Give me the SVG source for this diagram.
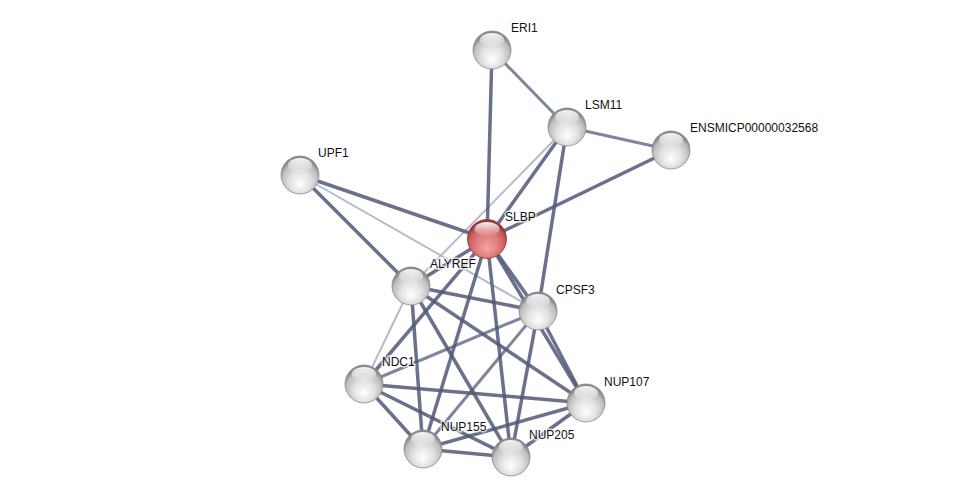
<svg xmlns="http://www.w3.org/2000/svg" width="976" height="502" viewBox="0 0 976 502">
<defs>
<radialGradient id="gGray" cx="0.5" cy="0.62" r="0.55" fx="0.5" fy="0.75">
<stop offset="0" stop-color="#ffffff"/>
<stop offset="0.5" stop-color="#e2e2e2"/>
<stop offset="0.85" stop-color="#bdbdbd"/>
<stop offset="1" stop-color="#888888"/>
</radialGradient>
<radialGradient id="gRed" cx="0.5" cy="0.62" r="0.55" fx="0.5" fy="0.75">
<stop offset="0" stop-color="#f3a5a5"/>
<stop offset="0.55" stop-color="#e07a7a"/>
<stop offset="0.85" stop-color="#c85a5a"/>
<stop offset="1" stop-color="#8e3a3a"/>
</radialGradient>
<linearGradient id="gHi" x1="0" y1="0" x2="0" y2="1">
<stop offset="0" stop-color="#ffffff" stop-opacity="0.95"/>
<stop offset="1" stop-color="#ffffff" stop-opacity="0.05"/>
</linearGradient>
<g id="ball">
<circle r="19" fill="url(#gGray)" stroke="#8a8a8a" stroke-width="0.8"/>
<ellipse cx="0" cy="-10" rx="12" ry="7" fill="url(#gHi)"/>
</g>
<g id="ballRed">
<circle r="19.5" fill="url(#gRed)" stroke="#8e3a3a" stroke-width="0.8"/>
<ellipse cx="0" cy="-10" rx="12.5" ry="7" fill="url(#gHi)"/>
</g>
</defs>
<style>
.e{stroke:#4f5878;stroke-opacity:0.85;stroke-width:3.5;fill:none}
.m{stroke:#5f6785;stroke-opacity:0.8;stroke-width:3;fill:none}
.l{stroke:#b6bbcc;stroke-width:2;fill:none}
.t{font-family:"Liberation Sans",Arial,sans-serif;font-size:12px;fill:#111;stroke:#ffffff;stroke-width:3;stroke-opacity:0.7;paint-order:stroke}
</style>
<rect width="976" height="502" fill="#ffffff"/>
<g id="edges">
<line class="l" x1="567" y1="127" x2="411" y2="286"/>
<line class="l" x1="300" y1="175" x2="538" y2="311"/>
<line class="l" x1="411" y1="286" x2="364" y2="384"/>
<line class="m" x1="538" y1="311" x2="423" y2="449"/>
<line class="m" x1="538" y1="311" x2="364" y2="384"/>
<line class="e" x1="492" y1="50" x2="487" y2="239"/>
<line class="m" x1="492" y1="50" x2="567" y2="127"/>
<line class="m" x1="567" y1="127" x2="671" y2="150"/>
<line class="e" x1="567" y1="127" x2="487" y2="239"/>
<line class="e" x1="567" y1="127" x2="538" y2="311"/>
<line class="e" x1="671" y1="150" x2="487" y2="239"/>
<line class="e" x1="300" y1="175" x2="487" y2="239"/>
<line class="e" x1="300" y1="175" x2="411" y2="286"/>
<line class="e" x1="487" y1="239" x2="411" y2="286"/>
<line class="e" x1="487" y1="239" x2="538" y2="311"/>
<line class="e" x1="487" y1="239" x2="364" y2="384"/>
<line class="e" x1="487" y1="239" x2="423" y2="449"/>
<line class="e" x1="487" y1="239" x2="511" y2="457"/>
<line class="e" x1="487" y1="239" x2="586" y2="403"/>
<line class="e" x1="411" y1="286" x2="538" y2="311"/>
<line class="e" x1="411" y1="286" x2="423" y2="449"/>
<line class="e" x1="411" y1="286" x2="511" y2="457"/>
<line class="e" x1="411" y1="286" x2="586" y2="403"/>
<line class="e" x1="538" y1="311" x2="511" y2="457"/>
<line class="e" x1="538" y1="311" x2="586" y2="403"/>
<line class="e" x1="364" y1="384" x2="586" y2="403"/>
<line class="e" x1="364" y1="384" x2="423" y2="449"/>
<line class="e" x1="364" y1="384" x2="511" y2="457"/>
<line class="e" x1="423" y1="449" x2="511" y2="457"/>
<line class="e" x1="423" y1="449" x2="586" y2="403"/>
<line class="e" x1="511" y1="457" x2="586" y2="403"/>
</g>
<g id="ERI1"><use href="#ball" x="492" y="50"/><text class="t" x="511" y="32">ERI1</text></g>
<g id="LSM11"><use href="#ball" x="567" y="127"/><text class="t" x="585" y="109">LSM11</text></g>
<g id="ENSMICP00000032568"><use href="#ball" x="671" y="150"/><text class="t" x="690" y="132">ENSMICP00000032568</text></g>
<g id="UPF1"><use href="#ball" x="300" y="175"/><text class="t" x="318" y="157">UPF1</text></g>
<g id="SLBP"><use href="#ballRed" x="487" y="239"/><text class="t" x="505" y="221">SLBP</text></g>
<g id="ALYREF"><use href="#ball" x="411" y="286"/><text class="t" x="430" y="268">ALYREF</text></g>
<g id="CPSF3"><use href="#ball" x="538" y="311"/><text class="t" x="556" y="294">CPSF3</text></g>
<g id="NDC1"><use href="#ball" x="364" y="384"/><text class="t" x="382" y="366">NDC1</text></g>
<g id="NUP107"><use href="#ball" x="586" y="403"/><text class="t" x="604" y="386">NUP107</text></g>
<g id="NUP155"><use href="#ball" x="423" y="449"/><text class="t" x="441" y="431">NUP155</text></g>
<g id="NUP205"><use href="#ball" x="511" y="457"/><text class="t" x="529" y="439">NUP205</text></g>
</svg>
